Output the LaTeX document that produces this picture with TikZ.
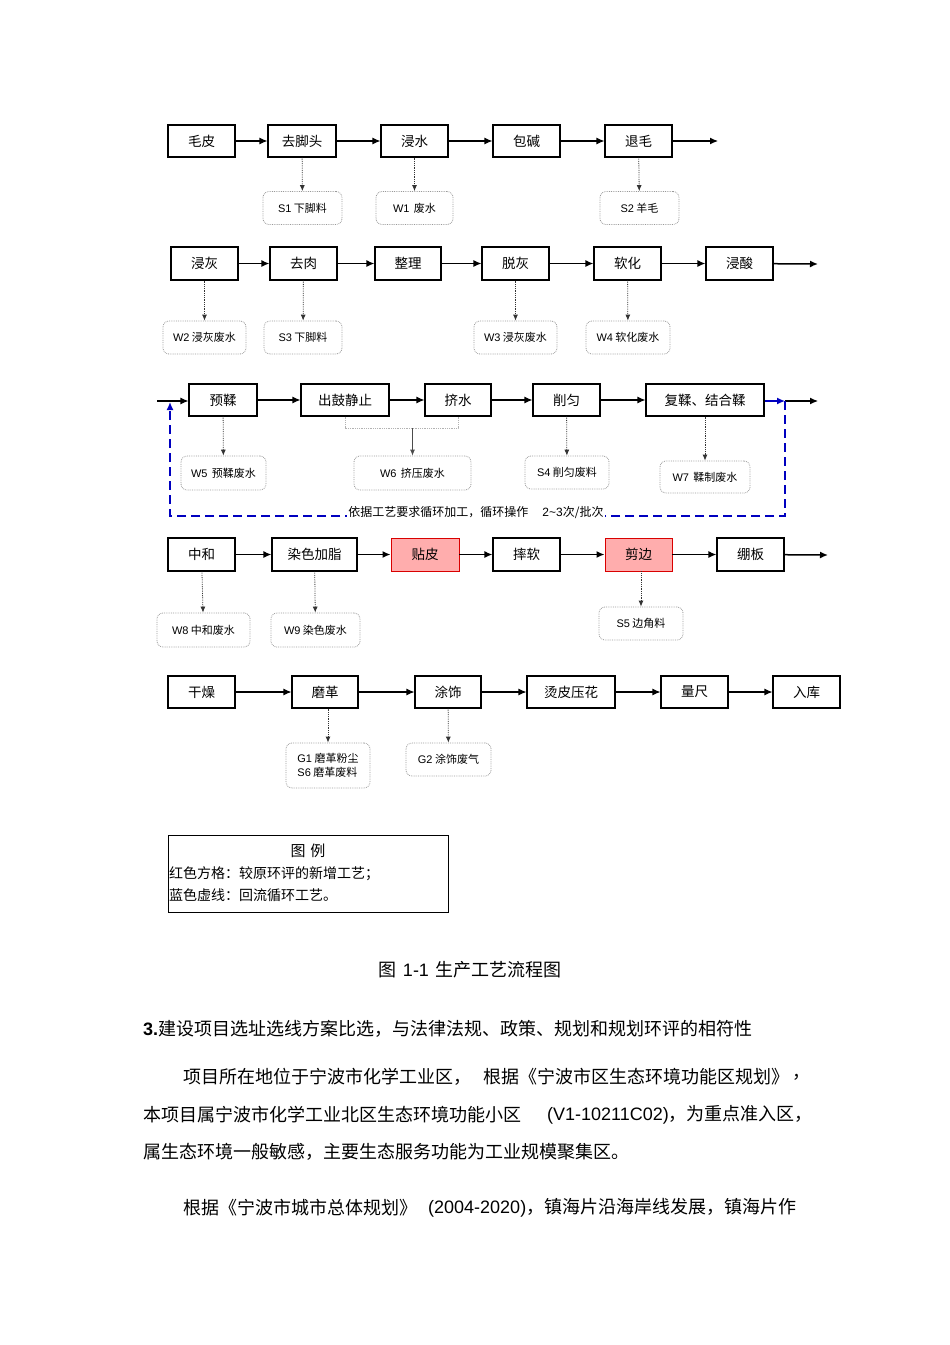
\documentclass[tikz,border=0pt]{standalone}
\usepackage{fontspec}
\setmainfont{Noto Sans CJK SC}
\newfontfamily\enfont{Liberation Sans}
\usepackage{tikz}
\usetikzlibrary{positioning,arrows,arrows.meta,calc}

\begin{document}
\begin{tikzpicture}[x=1pt,y=-1pt,
	proc/.style={draw, line width=1.1pt, minimum width=67pt, minimum height=32pt, inner sep=0pt, font=\fontsize{13.5}{15}\selectfont},
	newproc/.style={proc, draw=red!85!black, fill=red!32, line width=0.9pt},
	waste/.style={draw=gray!80, densely dotted, line width=0.8pt, rounded corners=6pt, minimum height=33pt, inner sep=1pt, font=\fontsize{11}{14}\selectfont},
	flow/.style={-{Latex[length=8pt,width=7pt]}, line width=1.1pt},
	drop/.style={-{Latex[length=6pt,width=5pt]}, densely dotted, line width=0.8pt, gray!40!black},
	dropline/.style={densely dotted, line width=0.8pt, gray!60},
	loopline/.style={-{Latex[length=8pt,width=7pt]}, blue!75!black, dashed, dash pattern=on 9pt off 5pt, line width=1.4pt},
	body/.style={anchor=west, inner sep=0pt, font=\fontsize{18}{21}\selectfont}]
				\useasboundingbox (0,0) rectangle (950,1345);
				\node[proc] (maopi) at (201.5,141) {毛皮};
				\node[proc, minimum width=68pt] (qujiaotou) at (302,141) {去脚头};
				\node[proc] (jinshui) at (414.5,141) {浸水};
				\node[proc] (baojian) at (526.5,141) {包碱};
				\node[proc] (tuimao) at (638.5,141) {退毛};
				\coordinate (rowaend) at (718,141);
				\node[waste, minimum width=79pt] (sa) at (302.5,208) {{\enfont S1} 下脚料};
				\node[waste, minimum width=77pt] (wa) at (414.5,208) {{\enfont W1}\, 废水};
				\node[waste, minimum width=79pt] (sb) at (639.5,208) {{\enfont S2} 羊毛};
				\node[proc, minimum height=33pt] (jinhui) at (204.5,263.5) {浸灰};
				\node[proc, minimum height=33pt] (qurou) at (303.5,263.5) {去肉};
				\node[proc, minimum height=33pt, minimum width=66pt] (zhengli) at (408,263.5) {整理};
				\node[proc, minimum height=33pt] (tuohui) at (515.5,263.5) {脱灰};
				\node[proc, minimum height=33pt] (ruanhua) at (627.5,263.5) {软化};
				\node[proc, minimum height=33pt] (jinsuan) at (739.5,263.5) {浸酸};
				\coordinate (rowbend) at (818,264);
				\node[waste, minimum width=83pt] (wb) at (204.5,337.5) {{\enfont W2} 浸灰废水};
				\node[waste, minimum width=78pt] (sc) at (303,337.5) {{\enfont S3} 下脚料};
				\node[waste, minimum width=83pt] (wc) at (515.5,337.5) {{\enfont W3} 浸灰废水};
				\node[waste, minimum width=84pt] (wd) at (628,337.5) {{\enfont W4} 软化废水};
				\coordinate (rowcstart) at (157,401);
				\node[proc, minimum width=68pt] (yurou) at (223,400) {预鞣};
				\node[proc, minimum width=88pt] (chugu) at (345,400) {出鼓静止};
				\node[proc, minimum width=66pt] (jishui) at (458,400) {挤水};
				\node[proc] (xueyun) at (566.5,400) {削匀};
				\node[proc, minimum width=118pt] (furou) at (705,400) {复鞣、结合鞣};
				\coordinate (loopr) at (785,401);
				\coordinate (rowcend) at (818,401);
				\node[waste, minimum width=85pt, minimum height=34pt] (we) at (223.5,473) {{\enfont W5}\, 预鞣废水};
				\coordinate (wfjoin) at (412.5,428);
				\node[waste, minimum width=117pt, minimum height=34pt] (wf) at (412.5,473) {{\enfont W6}\, 挤压废水};
				\node[waste, minimum width=84pt] (sd) at (567,472.5) {{\enfont S4} 削匀废料};
				\node[waste, minimum width=90pt, minimum height=32pt] (wg) at (705,477) {{\enfont W7}\, 鞣制废水};
				\coordinate (loopbr) at (785,516);
				\coordinate (loopbl) at (170,516);
				\coordinate (loopin) at (170,402);
				\node[proc, minimum height=33pt] (zhonghe) at (201.5,554.5) {中和};
				\node[proc, minimum height=33pt, minimum width=85pt] (ranse) at (314.5,554.5) {染色加脂};
				\node[newproc, minimum height=33pt, minimum width=68pt] (tiepi) at (425,554.5) {贴皮};
				\node[proc, minimum height=33pt] (shuairuan) at (526.5,554.5) {摔软};
				\node[newproc, minimum height=33pt] (jianbian) at (638.5,554.5) {剪边};
				\node[proc, minimum height=33pt] (bengban) at (750.5,554.5) {绷板};
				\coordinate (rowdend) at (828,555);
				\node[waste, minimum width=93pt, minimum height=34pt] (wh) at (203.5,630) {{\enfont W8} 中和废水};
				\node[waste, minimum width=89pt, minimum height=34pt] (wi) at (315.5,630) {{\enfont W9} 染色废水};
				\node[waste, minimum width=84pt] (se) at (641,623.5) {{\enfont S5} 边角料};
				\node[proc] (ganzao) at (201.5,692) {干燥};
				\node[proc, minimum width=66pt] (mouge) at (325,692) {磨革};
				\node[proc, minimum width=66pt] (tushi) at (448,692) {涂饰};
				\node[proc, minimum width=88pt] (tangpi) at (571,692) {烫皮压花};
				\node[proc] (liangchi) at (694.5,692) {量尺};
				\node[proc] (ruku) at (806.5,692) {入库};
				\node[waste, minimum width=84pt, minimum height=45pt, align=left] (ga) at (328,765.5) {{\enfont G1} 磨革粉尘\\{\enfont S6} 磨革废料};
				\node[waste, minimum width=85pt] (gb) at (448.5,759.5) {{\enfont G2} 涂饰废气};
				\draw[flow] (maopi) -- (qujiaotou);
				\draw[flow] (qujiaotou) -- (jinshui);
				\draw[flow] (jinshui) -- (baojian);
				\draw[flow] (baojian) -- (tuimao);
				\draw[flow] (tuimao) -- (rowaend);
				\draw[drop] (qujiaotou) -- (sa);
				\draw[drop] (jinshui) -- (wa);
				\draw[drop] (tuimao) -- (sb);
				\draw[flow, line width=1.5pt] (jinhui) -- (qurou);
				\draw[flow, line width=1.5pt] (qurou) -- (zhengli);
				\draw[flow] (zhengli) -- (tuohui);
				\draw[flow, line width=1.5pt] (tuohui) -- (ruanhua);
				\draw[flow, line width=1.5pt] (ruanhua) -- (jinsuan);
				\draw[flow, line width=1.5pt] (jinsuan) -- (rowbend);
				\draw[drop] (jinhui) -- (wb);
				\draw[drop] (qurou) -- (sc);
				\draw[drop] (tuohui) -- (wc);
				\draw[drop] (ruanhua) -- (wd);
				\draw[flow] (rowcstart) -- (yurou.west |- rowcstart);
				\draw[flow] (yurou) -- (chugu);
				\draw[flow] (chugu) -- (jishui);
				\draw[flow] (jishui) -- (xueyun);
				\draw[flow] (xueyun) -- (furou);
				\draw[flow] (loopr) -- (rowcend);
				\draw[-{Latex[length=8pt,width=7pt]}, blue!75!black, line width=1.4pt] (furou.east |- loopr) -- (loopr);
				\draw[drop] (yurou) -- (we);
				\draw[dropline] (chugu.south) |- (wfjoin) -| (jishui.south);
				\draw[-{Latex[length=6pt,width=5pt]}, line width=0.8pt, gray!60!black] (wfjoin) -- (wf);
				\draw[drop] (xueyun) -- (sd);
				\draw[drop] (furou) -- (wg);
				\draw[loopline] (loopr) -- (loopbr) -- (loopbl) -- (loopin);
				\node[fill=white, inner sep=1pt, font=\fontsize{12}{14}\selectfont] (looptext) at (476,513) {依据工艺要求循环加工，循环操作\hspace{14pt}{\enfont 2\textasciitilde3}次/批次};
				\draw[flow, line width=1.5pt] (zhonghe) -- (ranse);
				\draw[flow, line width=1.5pt] (ranse) -- (tiepi);
				\draw[flow, line width=1.5pt] (tiepi) -- (shuairuan);
				\draw[flow, line width=1.5pt] (shuairuan) -- (jianbian);
				\draw[flow, line width=1.5pt] (jianbian) -- (bengban);
				\draw[flow, line width=1.5pt] (bengban) -- (rowdend);
				\draw[drop] (zhonghe) -- (wh);
				\draw[drop] (ranse) -- (wi);
				\draw[drop] (jianbian.south -| se) -- (se);
				\draw[flow] (ganzao) -- (mouge);
				\draw[flow] (mouge) -- (tushi);
				\draw[flow] (tushi) -- (tangpi);
				\draw[flow] (tangpi) -- (liangchi);
				\draw[flow] (liangchi) -- (ruku);
				\draw[drop] (mouge.south -| ga) -- (ga);
				\draw[drop] (tushi) -- (gb);
				\node[draw, line width=0.9pt, minimum width=280pt, minimum height=77pt] (legend) at (308,873.5) {};
				\node[font=\fontsize{15}{17}\selectfont] (legendtitle) at (308,851) {图\hspace{5pt}例};
				\node[anchor=west, inner sep=0pt, font=\fontsize{14}{16}\selectfont] (legendred) at (169,874) {红色方格：较原环评的新增工艺；};
				\node[anchor=west, inner sep=0pt, font=\fontsize{14}{16}\selectfont] (legendblue) at (169,895) {蓝色虚线：回流循环工艺。};
				\node[font=\fontsize{18}{21}\selectfont] (caption) at (470,970) {图\hspace{6pt}{\enfont 1-1}\hspace{6pt}生产工艺流程图};
				\node[body] (heading) at (143,1029) {{\enfont\bfseries 3.}建设项目选址选线方案比选，与法律法规、政策、规划和规划环评的相符性};
				\node[body] (paraa) at (183,1077) {项目所在地位于宁波市化学工业区，};
				\node[body] (parab) at (483,1077) {根据《宁波市区生态环境功能区规划》};
				\node[body] (parac) at (792,1077) {，};
				\node[body] (parad) at (143,1115) {本项目属宁波市化学工业北区生态环境功能小区};
				\node[body] (parae) at (547,1115) {{\enfont (V1-10211C02)}，为重点准入区，};
				\node[body] (paraf) at (143,1152) {属生态环境一般敏感，主要生态服务功能为工业规模聚集区。};
				\node[body] (parag) at (183,1208) {根据《宁波市城市总体规划》};
				\node[body] (parah) at (428,1208) {{\enfont (2004-2020)}，镇海片沿海岸线发展，镇海片作};
\end{tikzpicture}
\end{document}
